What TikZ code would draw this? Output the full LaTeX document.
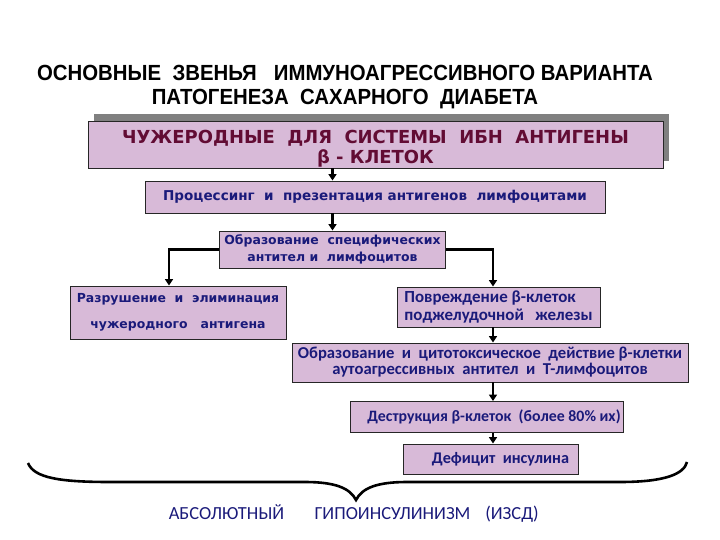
\documentclass[tikz,border=0pt]{standalone}
\usepackage{fontspec}
\usepackage{tikz}
\usetikzlibrary{positioning, calc, arrows.meta, shadows}
\usepackage{xcolor}

\newfontfamily\titlefont[FakeStretch=0.93]{Liberation Sans}
\newfontfamily\boxfont{DejaVu Sans}
\newfontfamily\calfont{Carlito}

\definecolor{boxfill}{RGB}{216,186,216}
\definecolor{navytext}{RGB}{26,26,122}
\definecolor{maroontext}{RGB}{98,12,52}
\definecolor{shadowgray}{RGB}{128,128,128}

\tikzset{
  box/.style={draw=black!85, line width=0.9bp, fill=boxfill, inner sep=0pt, align=center, text=navytext},
  link/.style={line width=2.6bp, -{Triangle[width=8bp,length=6.5bp]}},
  result/.style={anchor=base, text=navytext, font=\calfont\fontsize{18.5}{20}\selectfont},
}

\begin{document}
\begin{tikzpicture}[x=1bp, y=-1bp]
    \useasboundingbox (0,0) rectangle (720,540);

    % title
    \node (title) at (345,87) [align=center, font=\titlefont\bfseries\fontsize{22}{23.5}\selectfont] {ОСНОВНЫЕ\ \ ЗВЕНЬЯ\ \ \ ИММУНОАГРЕССИВНОГО ВАРИАНТА\\ПАТОГЕНЕЗА\ \ САХАРНОГО\ \ ДИАБЕТА};

    % antigens (with shadow)
    \node (antigen) at (375.5,144.5) [box, minimum width=575bp, minimum height=47bp, text=maroontext, font=\boxfont\bfseries\fontsize{18}{20}\selectfont, drop shadow={shadow xshift=6bp, shadow yshift=7bp, fill=shadowgray, opacity=1}] {\rule{0pt}{21bp}ЧУЖЕРОДНЫЕ\ \ ДЛЯ\ \ СИСТЕМЫ\ \ ИБН\ \ АНТИГЕНЫ\\β - КЛЕТОК};

    \node (proc) at (375,197) [box, minimum width=460bp, minimum height=32bp, font=\boxfont\bfseries\fontsize{13.6}{15}\selectfont] {Процессинг\ \ и\ \ презентация\ антигенов\ \ лимфоцитами};
    \node (obraz) at (332.5,249.5) [box, minimum width=226bp, minimum height=37bp, font=\boxfont\bfseries\fontsize{12.5}{17}\selectfont] {Образование\ \ специфических\\антител и\ \ лимфоцитов};

    % left branch
    \node (razr) at (178,312.5) [box, minimum width=216bp, minimum height=53bp, font=\boxfont\bfseries\fontsize{12.5}{26}\selectfont] {Разрушение\ \ и\ \ элиминация\\чужеродного\ \ \ антигена};

    % right branch
    \node (povr) at (498.5,307) [box, minimum width=203bp, minimum height=40bp, align=left, font=\calfont\bfseries\fontsize{17}{18}\selectfont] {Повреждение β-клеток\\поджелудочной\ \ \ железы};
    \node (cito) at (490,362.5) [box, minimum width=396bp, minimum height=39bp, font=\calfont\bfseries\fontsize{16.7}{16}\selectfont] {Образование\ \ и\ \ цитотоксическое\ \ действие β-клетки\\аутоагрессивных\ \ антител\ \ и\ \ Т-лимфоцитов};
    \node (destr) at (486.5,417) [box, minimum width=273bp, minimum height=31bp, font=\calfont\bfseries\fontsize{15.9}{16}\selectfont] {\hspace*{15bp}Деструкция β-клеток\ \ (более 80\% их)};
    \node (deficit) at (490.5,459) [box, minimum width=175bp, minimum height=30bp, font=\calfont\bfseries\fontsize{16.3}{16}\selectfont] {\hspace*{20bp}Дефицит\ \ инсулина};

    % connectors
    \coordinate (spine) at (493,0);
    \coordinate (lft) at (169,0);
    \draw[link] (antigen.south -| obraz) -- (proc.north -| obraz);
    \draw[link] (proc.south -| obraz) -- (obraz.north);
    \draw[link] (obraz.west) -| (razr.north -| lft);
    \draw[link] (obraz.east) -| (povr.north -| spine);
    \draw[link] (povr.south -| spine) -- (cito.north -| spine);
    \draw[link] (cito.south -| spine) -- (destr.north -| spine);
    \draw[link] (destr.south -| spine) -- (deficit.north -| spine);

    % brace
    \draw[line width=2.6bp] (28,463) .. controls (34,478) and (60,482) .. (110,482) -- (305,482) .. controls (335,482) and (350,488) .. (356,500) .. controls (362,488) and (377,482) .. (407,482) -- (620,482) .. controls (665,482) and (684,474) .. (687,462);

    \node (abs) at (226.5,519) [result] {АБСОЛЮТНЫЙ};
    \node (hypo) at (392.5,519) [result] {ГИПОИНСУЛИНИЗМ};
    \node (izsd) at (512,519) [result] {(ИЗСД)};
\end{tikzpicture}
\end{document}
